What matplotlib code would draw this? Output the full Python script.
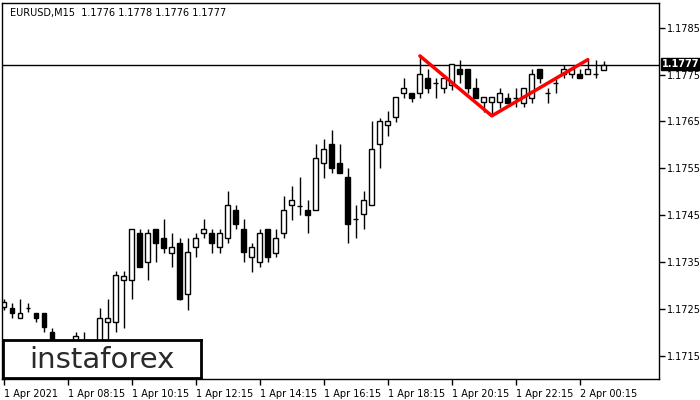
import matplotlib.pyplot as plt
import numpy as np

# EURUSD M15 candles
opens = [1.17254, 1.17252, 1.17230, 1.17252, 1.17241, 1.17241, 1.17200, 1.17166, 1.17150, 1.17180,
         1.17175, 1.17180, 1.17172, 1.17222, 1.17222, 1.17312, 1.17312, 1.17412, 1.17350, 1.17420,
         1.17401, 1.17369, 1.17391, 1.17282, 1.17382, 1.17412, 1.17412, 1.17382, 1.17401, 1.17461,
         1.17420, 1.17361, 1.17350, 1.17420, 1.17369, 1.17412, 1.17472, 1.17470, 1.17461, 1.17461,
         1.17562, 1.17602, 1.17562, 1.17532, 1.17442, 1.17453, 1.17472, 1.17602, 1.17643, 1.17660,
         1.17711, 1.17711, 1.17711, 1.17743, 1.17732, 1.17722, 1.17728, 1.17762, 1.17762, 1.17722,
         1.17692, 1.17692, 1.17692, 1.17700, 1.17700, 1.17690, 1.17700, 1.17762, 1.17711, 1.17732,
         1.17752, 1.17752, 1.17752, 1.17752, 1.17752, 1.17760]
highs = [1.17271, 1.17262, 1.17271, 1.17262, 1.17241, 1.17241, 1.17209, 1.17172, 1.17175, 1.17200,
         1.17200, 1.17182, 1.17252, 1.17271, 1.17331, 1.17331, 1.17420, 1.17420, 1.17420, 1.17420,
         1.17442, 1.17412, 1.17401, 1.17401, 1.17412, 1.17442, 1.17420, 1.17420, 1.17502, 1.17472,
         1.17442, 1.17391, 1.17420, 1.17420, 1.17420, 1.17491, 1.17512, 1.17532, 1.17482, 1.17602,
         1.17613, 1.17632, 1.17602, 1.17551, 1.17472, 1.17502, 1.17651, 1.17658, 1.17673, 1.17703,
         1.17743, 1.17711, 1.17790, 1.17762, 1.17743, 1.17747, 1.17773, 1.17782, 1.17762, 1.17743,
         1.17703, 1.17703, 1.17722, 1.17711, 1.17722, 1.17722, 1.17762, 1.17762, 1.17722, 1.17741,
         1.17771, 1.17762, 1.17762, 1.17782, 1.17782, 1.17780]
lows = [1.17247, 1.17230, 1.17230, 1.17243, 1.17222, 1.17200, 1.17151, 1.17140, 1.17138, 1.17172,
        1.17160, 1.17150, 1.17160, 1.17179, 1.17200, 1.17209, 1.17271, 1.17339, 1.17312, 1.17350,
        1.17369, 1.17339, 1.17269, 1.17247, 1.17361, 1.17401, 1.17369, 1.17369, 1.17391, 1.17420,
        1.17350, 1.17329, 1.17339, 1.17350, 1.17361, 1.17401, 1.17440, 1.17450, 1.17412, 1.17461,
        1.17530, 1.17540, 1.17540, 1.17391, 1.17401, 1.17420, 1.17472, 1.17551, 1.17619, 1.17649,
        1.17700, 1.17692, 1.17700, 1.17711, 1.17700, 1.17711, 1.17718, 1.17732, 1.17711, 1.17700,
        1.17671, 1.17662, 1.17679, 1.17690, 1.17681, 1.17681, 1.17690, 1.17732, 1.17690, 1.17711,
        1.17743, 1.17743, 1.17743, 1.17752, 1.17743, 1.17760]
closes = [1.17264, 1.17241, 1.17241, 1.17252, 1.17230, 1.17211, 1.17166, 1.17150, 1.17168, 1.17192,
          1.17180, 1.17170, 1.17230, 1.17230, 1.17322, 1.17320, 1.17420, 1.17339, 1.17412, 1.17391,
          1.17380, 1.17382, 1.17271, 1.17371, 1.17401, 1.17420, 1.17391, 1.17412, 1.17472, 1.17431,
          1.17371, 1.17382, 1.17412, 1.17361, 1.17401, 1.17461, 1.17482, 1.17470, 1.17450, 1.17572,
          1.17591, 1.17551, 1.17540, 1.17431, 1.17442, 1.17482, 1.17591, 1.17651, 1.17651, 1.17703,
          1.17722, 1.17700, 1.17752, 1.17722, 1.17732, 1.17743, 1.17773, 1.17752, 1.17722, 1.17700,
          1.17703, 1.17703, 1.17711, 1.17690, 1.17700, 1.17722, 1.17752, 1.17743, 1.17711, 1.17732,
          1.17762, 1.17762, 1.17743, 1.17762, 1.17752, 1.17770]

time_labels = ["1 Apr 2021", "1 Apr 08:15", "1 Apr 10:15", "1 Apr 12:15", "1 Apr 14:15",
               "1 Apr 16:15", "1 Apr 18:15", "1 Apr 20:15", "1 Apr 22:15", "2 Apr 00:15"]
price_ticks = [1.1715, 1.1725, 1.1735, 1.1745, 1.1755, 1.1765, 1.1775, 1.1785]

# double top pattern line: (bar index, price)
pattern_x = [52, 61, 73]
pattern_y = [1.17790, 1.17662, 1.17782]

last_price = 1.1777
header = "EURUSD,M15  1.1776 1.1778 1.1776 1.1777"

o = np.array(opens)
h = np.array(highs)
l = np.array(lows)
c = np.array(closes)
x = np.arange(len(o))

fig = plt.figure(figsize=(7, 4), dpi=100)
ax = fig.add_axes([2/700, 21/400, 657/700, 376/400])

ax.vlines(x, l, h, color="black", linewidth=1, zorder=2)
up = c >= o
ax.bar(x, np.abs(c - o), bottom=np.minimum(o, c), width=0.62,
       color=np.where(up, "white", "black"), edgecolor="black", linewidth=1, zorder=3)

ax.axhline(last_price, color="black", linewidth=1, zorder=1)
ax.plot(pattern_x, pattern_y, color="#ff0000", linewidth=2.5, zorder=4,
        solid_capstyle="round")

ax.set_xlim(-0.25, 81.9)
ax.set_ylim(1.17100, 1.17903)

ax.yaxis.tick_right()
ax.set_yticks(price_ticks)
ax.set_yticklabels([f"{p:.4f}" for p in price_ticks])
ax.set_xticks(np.arange(0, 80, 8)[:len(time_labels)])
ax.set_xticklabels(time_labels, ha="left")
ax.tick_params(axis="both", labelsize=7, length=4, width=1, colors="black", pad=2)
ax.tick_params(axis="x", pad=3)
for s in ax.spines.values():
    s.set_linewidth(1)

ax.text(0.012, 0.988, header, transform=ax.transAxes, fontsize=7, va="top", ha="left")

ax.text(1.004, last_price + 0.00002, "1.1777", transform=ax.get_yaxis_transform(),
        fontsize=7, color="white", fontweight="bold", va="center", ha="left",
        bbox=dict(facecolor="black", edgecolor="black", pad=0.6))

# logo
logo = fig.add_axes([3/700, 22/400, 198/700, 38/400])
logo.set_facecolor("white")
logo.set_xticks([])
logo.set_yticks([])
for s in logo.spines.values():
    s.set_linewidth(2)
logo.text(0.5, 0.47, "instaforex", fontsize=21, color="#2a2a2a",
          ha="center", va="center", transform=logo.transAxes)

fig.savefig("out.png", dpi=100)
